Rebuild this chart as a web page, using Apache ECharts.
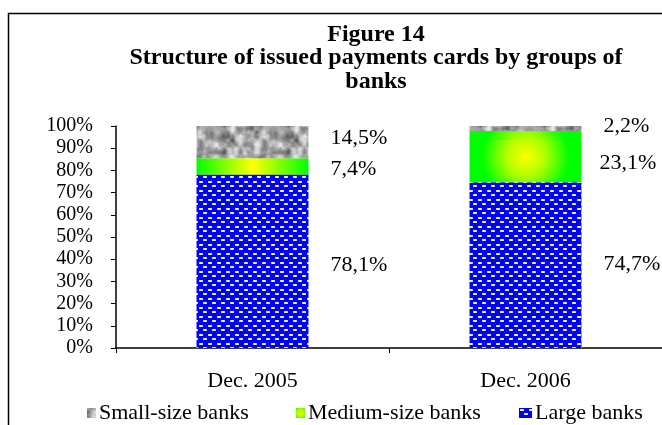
<!DOCTYPE html>
<html>
<head>
<meta charset="utf-8">
<script src="https://cdn.jsdelivr.net/npm/echarts@6/dist/echarts.min.js"></script>
<style>html,body{margin:0;padding:0;background:#fff}#c{width:662px;height:425px}</style>
</head>
<body>
<div id="c"></div>
<script>
// ---- data ----
const categories = ['Dec. 2005', 'Dec. 2006'];
const seriesNames = ['Small-size banks', 'Medium-size banks', 'Large banks'];
const largeBanks = [78.1, 74.7];
const mediumBanks = [7.4, 23.1];
const smallBanks = [14.5, 2.2];
const yTicks = [0, 10, 20, 30, 40, 50, 60, 70, 80, 90, 100];

// ---- label nudges (layout only, pixels) ----
const labelNudge = {
  'Large banks': [[0, 4], [0, -1]],
  'Medium-size banks': [[0, 3], [-4, 7]],
  'Small-size banks': [[0, -4], [0, -2]]
};

// ---- textures ----
function bluePattern() {
  const c = document.createElement('canvas'); c.width = 9; c.height = 9;
  const g = c.getContext('2d');
  g.fillStyle = '#0000ff'; g.fillRect(0, 0, 9, 9);
  g.fillStyle = '#d0d0c8';
  g.fillRect(1, 1, 4, 2); g.fillRect(5, 5, 4, 2);
  g.fillStyle = '#f4f49a';
  g.fillRect(2, 1, 2, 2); g.fillRect(6, 5, 2, 2);
  return c;
}
function grayPattern() {
  const n = 64;
  const c = document.createElement('canvas'); c.width = n; c.height = n;
  const g = c.getContext('2d');
  const img = g.createImageData(n, n);
  const hash = (i, j, s) => {
    let h = (i * 374761393 + j * 668265263 + s * 982451653) | 0;
    h = (h ^ (h >>> 13)) * 1274126177 | 0;
    h = h ^ (h >>> 16);
    return ((h >>> 0) % 1000) / 1000;
  };
  const noise = (x, y, cells, s) => {
    const fx = x / n * cells, fy = y / n * cells;
    const i0 = Math.floor(fx), j0 = Math.floor(fy);
    const tx = fx - i0, ty = fy - j0;
    const sx = tx * tx * (3 - 2 * tx), sy = ty * ty * (3 - 2 * ty);
    const v = (i, j) => hash(i % cells, j % cells, s);
    const a = v(i0, j0), b = v(i0 + 1, j0), cc = v(i0, j0 + 1), d = v(i0 + 1, j0 + 1);
    return (a * (1 - sx) + b * sx) * (1 - sy) + (cc * (1 - sx) + d * sx) * sy;
  };
  for (let y = 0; y < n; y++) {
    for (let x = 0; x < n; x++) {
      const v = 0.5 * noise(x, y, 8, 1) + 0.35 * noise(x, y, 16, 2) + 0.15 * noise(x, y, 32, 3);
      const val = Math.max(95, Math.min(230, 60 + v * 210));
      const i = (y * n + x) * 4;
      img.data[i] = img.data[i + 1] = img.data[i + 2] = val; img.data[i + 3] = 255;
    }
  }
  g.putImageData(img, 0, 0);
  return c;
}
const blueFill = { image: bluePattern(), repeat: 'repeat' };
const grayFill = { image: grayPattern(), repeat: 'repeat' };
const mediumRadial = {
  type: 'radial', x: 0.5, y: 0.5, r: 0.85,
  colorStops: [{ offset: 0, color: '#ffff00' }, { offset: 0.45, color: '#b0ff00' }, { offset: 1, color: '#00ff00' }]
};
const mediumLinear = {
  type: 'linear', x: 0, y: 0, x2: 1, y2: 0,
  colorStops: [{ offset: 0, color: '#00ff00' }, { offset: 0.5, color: '#ffff00' }, { offset: 1, color: '#00ff00' }]
};

const FONT = 'Liberation Serif';
const fmt = v => v.toFixed(1).replace('.', ',') + '%';
const labelCfg = {
  show: true, position: 'right', distance: 22, color: '#000',
  fontFamily: FONT, fontSize: 22,
  formatter: p => fmt(p.value)
};
function buildData(name, values, extraStyle) {
  return values.map((v, i) => {
    const item = { value: v, label: { offset: labelNudge[name][i] } };
    if (extraStyle && extraStyle[i]) item.itemStyle = extraStyle[i];
    return item;
  });
}

const legendLefts = [82, 291, 514];
const legendIconW = [9, 9, 13];

const chart = echarts.init(document.getElementById('c'), null, { renderer: 'canvas' });
chart.setOption({
  animation: false,
  backgroundColor: '#fff',
  textStyle: { fontFamily: FONT },
  graphic: [
    { type: 'rect', shape: { x: 8.5, y: 13.5, width: 700, height: 500 }, style: { fill: 'none', stroke: '#000', lineWidth: 1.5 }, silent: true },
    { type: 'text', x: 376, y: 23, style: {
      text: 'Figure 14\nStructure of issued payments cards by groups of\nbanks',
      textAlign: 'center', fill: '#000', font: 'bold 24px "Liberation Serif"', lineHeight: 23.5 } }
  ],
  legend: seriesNames.map((n, k) => ({
    data: [n], left: legendLefts[k], top: 397, itemWidth: legendIconW[k], itemHeight: 10, itemGap: 0,
    textStyle: { fontFamily: FONT, fontSize: 22, color: '#000', padding: [0, 0, 0, -2] },
    icon: 'rect'
  })),
  grid: { left: 116, right: 0, top: 126, bottom: 77 },
  xAxis: {
    type: 'category', data: categories,
    axisLine: { lineStyle: { color: '#000', width: 1.5 } },
    axisTick: { show: true, length: 5, lineStyle: { color: '#000' } },
    axisLabel: { color: '#000', fontFamily: FONT, fontSize: 22, margin: 22 }
  },
  yAxis: {
    type: 'value', min: yTicks[0], max: yTicks[yTicks.length - 1], interval: yTicks[1] - yTicks[0],
    axisLine: { show: true, lineStyle: { color: '#000', width: 1.5 } },
    axisTick: { show: true, length: 5, lineStyle: { color: '#000' } },
    splitLine: { show: false },
    axisLabel: { color: '#000', fontFamily: FONT, fontSize: 20, margin: 23, formatter: '{value}%' }
  },
  series: [
    { name: 'Large banks', type: 'bar', stack: 'all', barWidth: '41%', data: buildData('Large banks', largeBanks),
      itemStyle: { color: blueFill }, label: labelCfg },
    { name: 'Medium-size banks', type: 'bar', stack: 'all', barWidth: '41%',
      data: buildData('Medium-size banks', mediumBanks, [{ color: mediumLinear }, null]),
      itemStyle: { color: mediumRadial }, label: labelCfg },
    { name: 'Small-size banks', type: 'bar', stack: 'all', barWidth: '41%', data: buildData('Small-size banks', smallBanks),
      itemStyle: { color: grayFill }, label: labelCfg }
  ]
});
</script>
</body>
</html>
